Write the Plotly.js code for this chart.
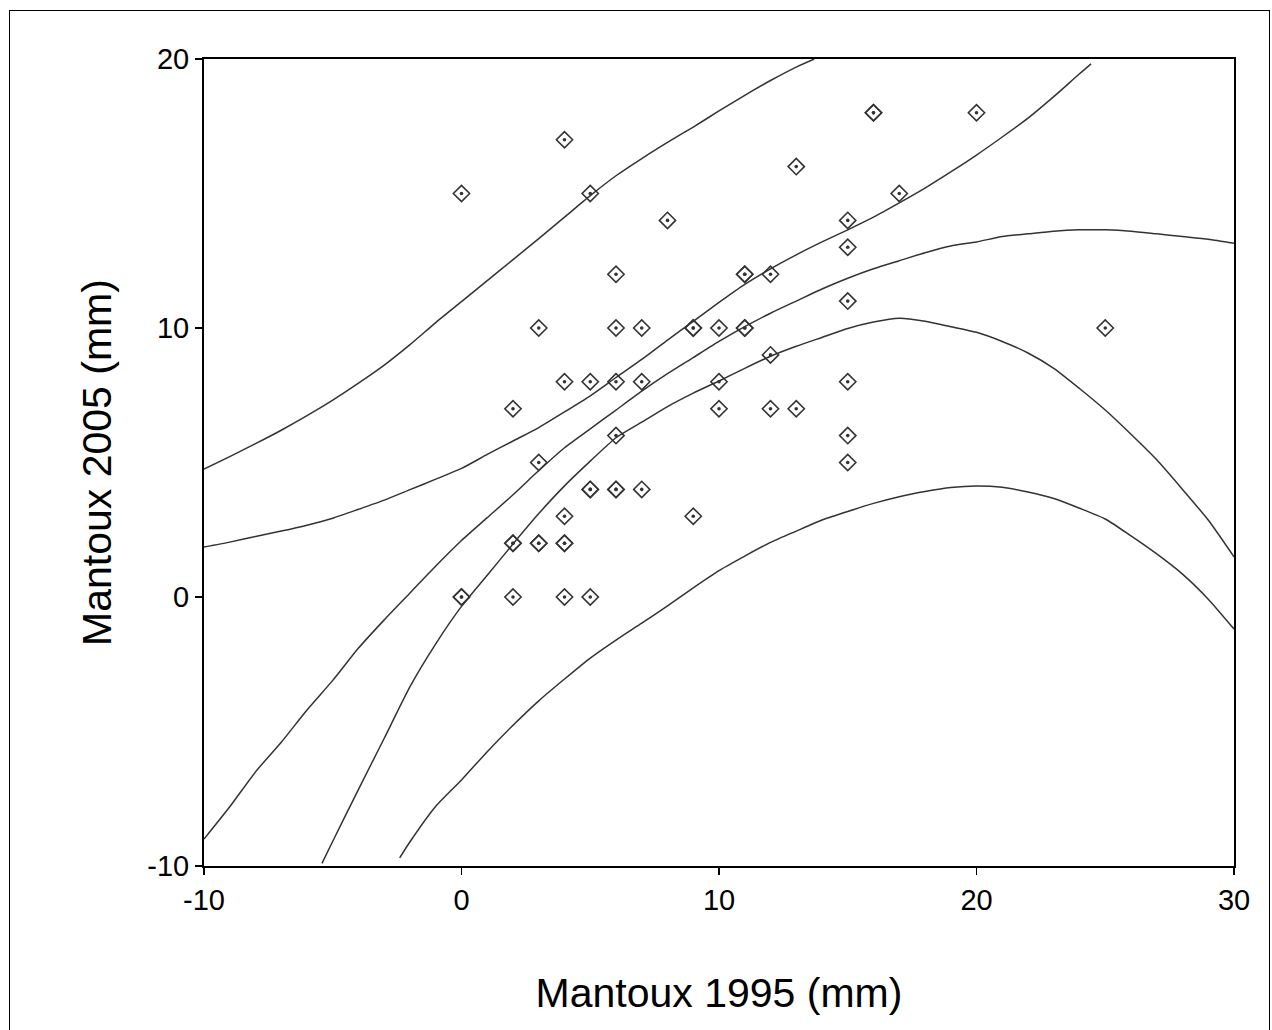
<!DOCTYPE html>
<html>
<head>
<meta charset="utf-8">
<script src="https://cdn.plot.ly/plotly-3.0.1.min.js"></script>
<style>
  html, body { margin: 0; padding: 0; background: #fff; overflow: hidden; }
  #wrap { position: relative; width: 1272px; height: 1030px; overflow: hidden; }
  #chart { position: absolute; left: 0; top: 0; width: 1272px; height: 1030px; }
  #frame { position: absolute; left: 9px; top: 10px; width: 1261px; height: 1040px;
           border-left: 1.5px solid #000; border-top: 1.5px solid #000; border-right: 1.5px solid #000;
           box-sizing: border-box; pointer-events: none; }
</style>
</head>
<body>
<div id="wrap">
  <div id="chart"></div>
  <div id="frame"></div>
</div>
<script>
// Observed pairs (Mantoux 1995, Mantoux 2005); repeated pairs appear as heavier markers
const obsX = [0,0,0, 2,2,2,2, 3,3,3,3, 4,4,4,4,4,4, 5,5,5,5,5, 6,6,6,6,6,6, 7,7,7, 8, 9,9,9, 10,10,10, 11,11,11,11, 12,12,12, 13,13, 15,15,15,15,15,15, 16,16, 17, 20, 25];
const obsY = [15,0,0, 7,2,2,0, 10,5,2,2, 17,8,3,2,2,0, 15,8,4,4,0, 12,10,8,6,4,4, 10,8,4, 14, 10,10,3, 10,8,7, 12,12,10,10, 12,9,7, 16,7, 14,13,11,8,6,5, 18,18, 15, 18, 10];

// Upper prediction limit
const predUpX = [-10,-9,-8,-7,-6,-5,-4,-3,-2,-1,0,1,2,3,4,5,6,7,8,9,10,11,12,13,13.7];
const predUpY = [4.76,5.22,5.7,6.2,6.74,7.32,7.95,8.62,9.38,10.2,10.98,11.76,12.54,13.32,14.12,14.92,15.66,16.3,16.9,17.47,18.07,18.65,19.2,19.7,20.0];

// Upper confidence limit
const confUpX = [-10,-9,-8,-7,-6,-5,-4,-3,-2,-1,0,1,2,3,4,5,6,7,8,9,10,11,12,13,14,15,16,17,18,19,20,21,22,23,24,24.45];
const confUpY = [1.86,2.04,2.25,2.45,2.67,2.93,3.26,3.6,3.99,4.38,4.78,5.3,5.8,6.3,6.88,7.48,8.16,8.83,9.55,10.25,10.95,11.62,12.2,12.72,13.2,13.65,14.12,14.65,15.2,15.8,16.43,17.1,17.8,18.6,19.45,19.82];

// Fitted curve
const fitX = [-10,-9,-8,-7,-6,-5,-4,-3,-2,-1,0,1,2,3,4,5,6,7,8,9,10,11,12,13,14,15,16,17,18,19,20,21,22,23,24,25,26,27,28,29,30];
const fitY = [-9.0,-7.8,-6.5,-5.4,-4.2,-3.1,-1.9,-0.85,0.15,1.15,2.1,2.95,3.8,4.7,5.55,6.25,6.95,7.65,8.3,8.9,9.5,10.05,10.55,11.0,11.45,11.85,12.2,12.5,12.8,13.05,13.2,13.4,13.5,13.6,13.65,13.65,13.6,13.5,13.4,13.3,13.15];

// Lower confidence limit
const confLoX = [-5.42,-5,-4,-3,-2,-1,0,1,2,3,4,5,6,7,8,9,10,11,12,13,14,15,16,17,18,19,20,21,22,23,24,25,26,27,28,29,30];
const confLoY = [-9.9,-9.08,-7.15,-5.25,-3.33,-1.74,-0.35,0.81,1.97,3.1,4.13,5.05,5.92,6.5,7.08,7.58,8.03,8.5,8.95,9.32,9.65,9.98,10.22,10.36,10.25,10.05,9.84,9.5,9.07,8.5,7.75,6.95,6.05,5.1,4.0,2.86,1.49];

// Lower prediction limit
const predLoX = [-2.4,-2,-1,0,1,2,3,4,5,6,7,8,9,10,11,12,13,14,15,16,17,18,19,20,21,22,23,24,25,26,27,28,29,30];
const predLoY = [-9.7,-9.1,-7.78,-6.8,-5.75,-4.77,-3.86,-3.05,-2.27,-1.6,-0.97,-0.33,0.34,0.98,1.52,2.03,2.45,2.86,3.18,3.48,3.73,3.92,4.07,4.13,4.08,3.9,3.66,3.3,2.9,2.27,1.6,0.85,-0.08,-1.19];

const xTicks = [-10, 0, 10, 20, 30];
const yTicks = [-10, 0, 10, 20];

const lineStyle = {color: '#333333', width: 1.5, shape: 'spline', smoothing: 0.6};
function curve(x, y, name) {
  return {x: x, y: y, type: 'scatter', mode: 'lines', name: name, line: lineStyle,
          hoverinfo: 'x+y', showlegend: false, cliponaxis: true};
}

const traces = [
  curve(predUpX, predUpY, 'Upper prediction'),
  curve(confUpX, confUpY, 'Upper confidence'),
  curve(fitX, fitY, 'Fit'),
  curve(confLoX, confLoY, 'Lower confidence'),
  curve(predLoX, predLoY, 'Lower prediction'),
  {x: obsX, y: obsY, type: 'scatter', mode: 'markers', name: 'Observed', showlegend: false,
   marker: {symbol: 'diamond-open', size: 12.5, color: '#333333', line: {color: '#333333', width: 1.6}}},
  {x: obsX, y: obsY, type: 'scatter', mode: 'markers', name: 'Observed centre', showlegend: false,
   hoverinfo: 'skip', marker: {symbol: 'circle', size: 3.6, color: '#333333', line: {width: 0}}}
];

const tickFont = {family: 'Liberation Sans, Arial, sans-serif', size: 29, color: '#000'};
const titleFont = {family: 'Liberation Sans, Arial, sans-serif', size: 41, color: '#000'};

const layout = {
  width: 1272, height: 1030,
  margin: {l: 204, r: 38, t: 59, b: 164, pad: 0},
  paper_bgcolor: '#ffffff', plot_bgcolor: '#ffffff',
  showlegend: false,
  xaxis: {
    range: [-10, 30], tickmode: 'array', tickvals: xTicks, ticktext: xTicks.map(String),
    ticks: 'outside', ticklen: 7, tickwidth: 1.5, tickcolor: '#000',
    showline: true, linecolor: '#000', linewidth: 2, mirror: true,
    showgrid: false, zeroline: false, tickfont: tickFont, automargin: false,
    title: {text: 'Mantoux 1995 (mm)', font: titleFont, standoff: 64}
  },
  yaxis: {
    range: [-10, 20], tickmode: 'array', tickvals: yTicks, ticktext: yTicks.map(String),
    ticks: 'outside', ticklen: 7, tickwidth: 1.5, tickcolor: '#000',
    showline: true, linecolor: '#000', linewidth: 2, mirror: true,
    showgrid: false, zeroline: false, tickfont: tickFont, automargin: false,
    title: {text: 'Mantoux 2005 (mm)', font: titleFont, standoff: 23}
  }
};

Plotly.newPlot('chart', traces, layout, {displayModeBar: false, staticPlot: true});
</script>
</body>
</html>
